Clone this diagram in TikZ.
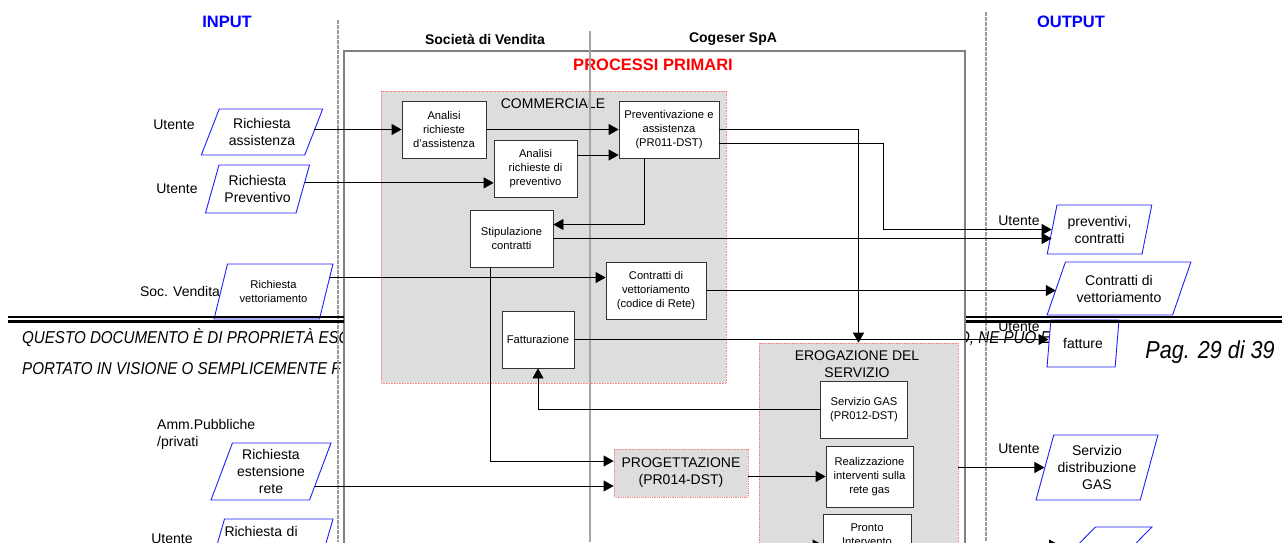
\documentclass[tikz,border=0pt]{standalone}
\usepackage{fontspec}
\setmainfont{Liberation Sans}
\newfontfamily\footfont[FakeStretch=0.88]{Liberation Sans}
\usetikzlibrary{arrows.meta,shapes.geometric,calc,positioning}

\definecolor{boxgray}{RGB}{221,221,221}
\definecolor{linered}{RGB}{255,130,130}
\definecolor{parablue}{RGB}{30,30,255}
\definecolor{framegray}{RGB}{128,128,128}

\newcommand\smalltext{\fontsize{11.2}{14}\selectfont}
\newcommand\bigtext{\fontsize{14}{17}\selectfont}

\begin{document}
\begin{tikzpicture}[x=1pt, y=-1pt, >={Triangle[length=10pt, width=11pt]},
    every node/.style={inner sep=0pt},
    proc/.style={draw=black!80, fill=white, line width=0.8pt, align=center, font=\smalltext, minimum height=57pt, minimum width=#1},
    para/.style n args={4}{trapezium, trapezium left angle=#1, trapezium right angle=#2, trapezium stretches,
        draw=parablue, fill=white, line width=0.9pt, align=center, font=\bigtext, minimum width=#3, minimum height=#4},
    group/.style={fill=boxgray, draw=linered, densely dotted, line width=0.6pt},
    src/.style={font=\bigtext},
    head/.style={font=\bfseries\bigtext},
    title/.style={font=\bfseries\fontsize{16.5}{19}\selectfont},
    foot/.style={font=\footfont\itshape\fontsize{17.2}{20}\selectfont},
    sep/.style={gray!80, line width=1.1pt, dash pattern=on 4pt off 1pt},
    arr/.style={->, line width=0.8pt}]

    \clip (0,0) rectangle (1282,542);

    % page footer behind the diagram
    \node[foot, anchor=west] (footA) at (22,338) {QUESTO DOCUMENTO È DI PROPRIETÀ ESC};
    \node[foot, anchor=west] (footB) at (22,369) {PORTATO IN VISIONE O SEMPLICEMENTE F};
    \node[foot, anchor=west] (footC) at (958,339) {O, NE PUO ES};
    \node[foot, font=\footfont\itshape\fontsize{24.5}{28}\selectfont] (page) at (1210,352) {Pag. 29 di 39};

    \draw[sep] (338,20) -- (338,542);
    \draw[sep] (986,12) -- (986,542);
    \draw[framegray, line width=1.5pt, fill=white] (344,51) rectangle (965,560);

    \node[title, text=blue] (input) at (227,22) {INPUT};
    \node[title, text=blue] (output) at (1071,22) {OUTPUT};
    \node[head] (sdv) at (485,39) {Società di Vendita};
    \node[head] (cog) at (733,39) {Cogeser SpA};
    \node[title, text=red] (pp) at (653,65) {PROCESSI PRIMARI};

    % process groups
    \node[group, minimum width=345pt, minimum height=292pt] (comm) at (553.5,237) {};
    \node[font=\bigtext] (commlab) at (553,104) {COMMERCIALE};
    \node[group, minimum width=199pt, minimum height=280pt] (ero) at (858.5,483) {};
    \node[font=\bigtext, align=center] (erolab) at (857,364) {EROGAZIONE DEL\\SERVIZIO};

    \draw[gray!70, line width=1.2pt] (590,31) -- (590,542);

    \node[proc=84pt] (ana) at (444,129.5) {Analisi\\richieste\\d'assistenza};
    \node[proc=83pt] (anp) at (535.5,168.5) {Analisi\\richieste di\\preventivo};
    \node[proc=100pt] (prev) at (669,129.5) {Preventivazione e\\assistenza\\(PR011-DST)};
    \node[proc=83pt] (stip) at (511.5,238.5) {Stipulazione\\contratti};
    \node[proc=100pt] (cvet) at (656,290.5) {Contratti di\\vettoriamento\\(codice di Rete)};
    \node[proc=72pt] (fatt) at (538,339.5) {Fatturazione};
    \node[proc=87pt] (sgas) at (864,409.5) {Servizio GAS\\(PR012-DST)};
    \node[proc=87pt, minimum height=61pt] (real) at (869.5,476.5) {Realizzazione\\interventi sulla\\rete gas};
    \node[proc=88pt, minimum height=42pt] (pronto) at (867,535) {Pronto\\Intervento};
    \node[proc=134pt, minimum height=48pt, fill=boxgray, draw=linered, densely dotted, font=\bigtext] (prog) at (681,473) {PROGETTAZIONE\\(PR014-DST)};

    % inputs
    \node[src] (u1) at (174,125) {Utente};
    \node[src] (u2) at (177,189) {Utente};
    \node[src] (soc) at (180,291) {Soc. Vendita};
    \node[src, anchor=west, align=left] (amm) at (157,434) {Amm.Pubbliche\\/privati};
    \node[src] (u3) at (172,539) {Utente};
    \node[para={63}{117}{122pt}{46pt}] (ria) at (262,132) {Richiesta\\assistenza};
    \node[para={67}{113}{105pt}{48pt}] (rp) at (257.5,189) {Richiesta\\Preventivo};
    \node[para={66}{114}{119pt}{55pt}, font=\smalltext] (rv) at (273.5,291.5) {Richiesta\\vettoriamento};
    \node[para={67}{113}{120pt}{57pt}] (rer) at (271,471.5) {Richiesta\\estensione\\rete};
    \node[para={69}{111}{121pt}{57pt}, text width=92pt, align=left, text height=10pt, text depth=33pt] (rdi) at (270.5,547.5) {Richiesta di};

    % outputs
    \node[src] (u4) at (1019,221) {Utente};
    \node[src] (u5) at (1019,327) {Utente};
    \node[src] (u6) at (1019,449) {Utente};
    \node[para={75}{105}{105pt}{49pt}] (opc) at (1099.5,229.5) {preventivi,\\contratti};
    \node[para={62}{118}{144pt}{53pt}] (ocv) at (1119,288.5) {Contratti di\\vettoriamento};
    \node[para={77}{103}{72pt}{47pt}] (ofat) at (1083,343.5) {fatture};
    \node[para={70}{110}{122pt}{65pt}] (osd) at (1097,467.5) {Servizio\\distribuzione\\GAS};
    \node[para={70}{110}{113pt}{57pt}] (olast) at (1095.5,555.5) {\strut};

    % flows
    \coordinate (rpout) at ($(rp.bottom right corner)!.625!(rp.top right corner)$);
    \coordinate (rvout) at ($(rv.bottom right corner)!.75!(rv.top right corner)$);
    \coordinate (rerout) at ($(rer.bottom right corner)!.25!(rer.top right corner)$);
    \draw[arr] (ria.east |- ana.west) -- (ana.west);
    \draw[arr] (rpout) -- (anp.west |- rpout);
    \draw[arr] (ana) -- (prev);
    \draw[arr] ([yshift=13.5pt]anp.east) -- (prev.west |- 0,155);
    \draw[arr] ([xshift=-25pt]prev.south) |- ([yshift=14pt]stip.east);
    \draw[arr] (prev.east) -| (ero.north);
    \draw[arr] ([yshift=-14pt]prev.east) -- ++(164,0) |- (opc.west);
    \draw[arr] (stip.east) -- (opc.west |- stip.east);
    \draw[arr] (rvout) -- (cvet.west |- rvout);
    \draw[arr] (cvet.east) -- (ocv.west |- cvet.east);
    \draw[arr] (fatt.east) -- (ofat.west |- fatt.east);
    \draw[arr] ([xshift=-21.5pt]stip.south) |- ([yshift=12pt]prog.west);
    \draw[arr] (rerout) -- (prog.west |- rerout);
    \draw[arr] (sgas.west) -| (fatt.south);
    \draw[arr] (prog.east |- real.west) -- (real.west);
    \draw[arr] (ero.east |- osd.west) -- (osd.west);
    \coordinate (pin) at (790,545);
    \draw[arr] (pin) -- (pronto.west |- pin);
    \coordinate (lastin) at (963,545);
    \draw[arr] (lastin) -- (1059,545);

    % page break rule
    \foreach \xa/\xb in {8/344, 966/1282} {
        \draw[line width=2pt] (\xa,317) -- (\xb,317);
        \draw[line width=3pt] (\xa,321.5) -- (\xb,321.5);
    }

\end{tikzpicture}
\end{document}
